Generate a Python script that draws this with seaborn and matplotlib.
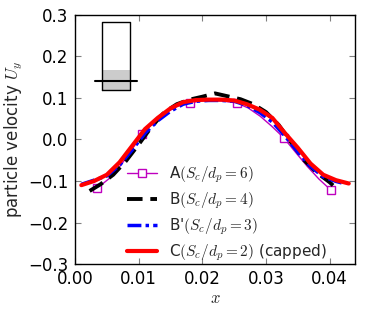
import numpy as np
import pandas as pd
import matplotlib
matplotlib.use("Agg")
import matplotlib.pyplot as plt
import seaborn as sns

# Series A (S_c/d_p = 6)
a_x = [0.0035, 0.0053, 0.0072, 0.0089, 0.0106, 0.0124, 0.0143, 0.0161, 0.0180, 0.0198,
       0.0217, 0.0235, 0.0254, 0.0272, 0.0291, 0.0309, 0.0328, 0.0346, 0.0365, 0.0383, 0.0402]
a_y = [-0.117, -0.095, -0.062, -0.025, 0.013, 0.042, 0.065, 0.080, 0.088, 0.093,
       0.094, 0.092, 0.088, 0.076, 0.056, 0.032, 0.004, -0.030, -0.065, -0.095, -0.122]

# Series B (S_c/d_p = 4)
b_x = [0.0023, 0.004, 0.006, 0.008, 0.010, 0.012, 0.014, 0.016, 0.018, 0.020, 0.022,
       0.024, 0.026, 0.028, 0.030, 0.032, 0.034, 0.036, 0.038, 0.040, 0.0412]
b_y = [-0.124, -0.108, -0.085, -0.052, -0.012, 0.030, 0.065, 0.085, 0.096, 0.103, 0.111,
       0.104, 0.097, 0.085, 0.066, 0.035, -0.008, -0.050, -0.080, -0.103, -0.120]

# Series B' (S_c/d_p = 3)
bp_x = [0.001, 0.003, 0.005, 0.007, 0.009, 0.011, 0.013, 0.015, 0.017, 0.019, 0.021,
        0.023, 0.025, 0.027, 0.029, 0.031, 0.033, 0.035, 0.037, 0.039, 0.041, 0.042]
bp_y = [-0.108, -0.098, -0.088, -0.062, -0.025, 0.015, 0.045, 0.068, 0.085, 0.092, 0.094,
        0.094, 0.092, 0.082, 0.065, 0.042, 0.008, -0.030, -0.065, -0.090, -0.101, -0.105]

# Series C (S_c/d_p = 2, capped)
c_x = [0.001, 0.003, 0.005, 0.007, 0.009, 0.011, 0.013, 0.015, 0.017, 0.019, 0.021,
       0.023, 0.025, 0.027, 0.029, 0.031, 0.033, 0.035, 0.037, 0.039, 0.041, 0.043]
c_y = [-0.110, -0.100, -0.085, -0.055, -0.015, 0.025, 0.052, 0.075, 0.090, 0.095, 0.096,
       0.096, 0.094, 0.085, 0.072, 0.052, 0.015, -0.020, -0.058, -0.085, -0.098, -0.106]

labels = [r"A$(S_c/d_p=6)$", r"B$(S_c/d_p=4)$", r"B'$(S_c/d_p=3)$", r"C$(S_c/d_p=2)$ (capped)"]

# Inset sketch (data coordinates)
box_x = [0.0042, 0.0087]
box_y = [0.1193, 0.283]
fill_top = 0.1675
bar_x = [0.0032, 0.0097]
bar_y = 0.141

sns.set_style("ticks")
plt.rcParams.update({
    "font.family": ["DejaVu Sans"],
    "xtick.direction": "in", "ytick.direction": "in",
    "xtick.top": True, "ytick.right": True,
    "axes.linewidth": 1.0,
    "mathtext.fontset": "cm",
})

fig = plt.figure(figsize=(3.73, 3.11), dpi=100)
ax = fig.add_axes([0.201, 0.151, 0.751, 0.801])

sns.lineplot(x=a_x, y=a_y, ax=ax, color="m", lw=1.0, marker="s", markersize=6,
             markevery=4, mfc="white", mec="m", mew=1.0, label=labels[0], sort=False)
sns.lineplot(x=b_x, y=b_y, ax=ax, color="black", lw=2.8, label=labels[1], sort=False)
ax.lines[-1].set_dashes((4, 2))
sns.lineplot(x=bp_x, y=bp_y, ax=ax, color="blue", lw=2.5, label=labels[2], sort=False)
ax.lines[-1].set_dashes((4, 1.2, 1, 1.2))
sns.lineplot(x=c_x, y=c_y, ax=ax, color="red", lw=3.0, label=labels[3], sort=False)

# inset sketch
ax.fill_between(box_x, [box_y[0]] * 2, [fill_top] * 2, color="#cccccc", lw=0)
ax.plot([box_x[0], box_x[1], box_x[1], box_x[0], box_x[0]],
        [box_y[0], box_y[0], box_y[1], box_y[1], box_y[0]], color="black", lw=1.0)
ax.plot(bar_x, [bar_y, bar_y], color="black", lw=1.5)

ax.set_xlim(0, 0.044)
ax.set_ylim(-0.3, 0.3)
ax.set_xticks([0.0, 0.01, 0.02, 0.03, 0.04])
ax.set_xticklabels(["0.00", "0.01", "0.02", "0.03", "0.04"])
ax.set_yticks([-0.3, -0.2, -0.1, 0.0, 0.1, 0.2, 0.3])
ax.set_yticklabels(["\u22120.3", "\u22120.2", "\u22120.1", "0.0", "0.1", "0.2", "0.3"])
ax.tick_params(labelsize=12, length=4, width=0.8, color="0.5", labelcolor="black")
ax.tick_params(axis="y", pad=5)
ax.tick_params(axis="x", pad=4)
for s in ax.spines.values():
    s.set_color("black")
ax.set_xlabel(r"$x$", fontsize=12, labelpad=1)
ax.set_ylabel(r"particle velocity $U_y$", fontsize=12, labelpad=2)

ax.legend(loc="lower left", bbox_to_anchor=(0.135, -0.05), frameon=False, fontsize=11,
          handlelength=2.0, labelspacing=0.35, handletextpad=0.8)

fig.savefig("out.png", dpi=100)
